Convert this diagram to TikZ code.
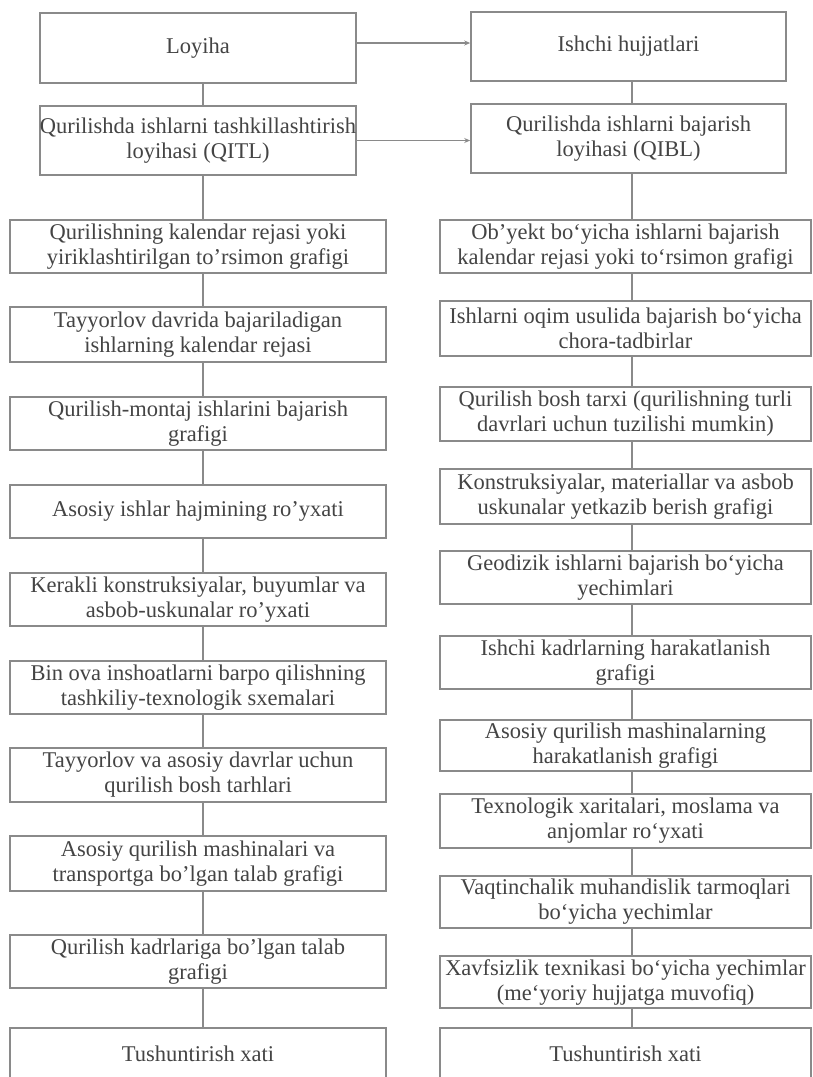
\documentclass[tikz,border=0pt]{standalone}
\usepackage{fontspec}
\setmainfont{Liberation Serif}
\usetikzlibrary{arrows.meta}
\definecolor{linegray}{HTML}{8A8A8A}
\definecolor{textgray}{HTML}{444444}
\begin{document}
\begin{tikzpicture}[x=1pt,y=-1pt,
  box/.style={draw=linegray, line width=1.6pt, rectangle, align=center, inner sep=0pt,
    text=textgray, font=\fontsize{22.5}{25}\selectfont},
  lbox/.style={box, minimum width=376pt},
  rbox/.style={box, minimum width=371pt},
  tbox/.style={box, minimum width=316pt, minimum height=69pt},
  conn/.style={draw=linegray, line width=1.6pt},
  arr/.style={conn, -{Stealth[length=6pt,width=5pt]}}]
\clip (0,0) rectangle (812,1077);
\fill[white] (0,0) rectangle (812,1077);
% top boxes
\node[tbox, minimum height=70pt] (loy) at (198,48) {Loyiha};
\node[tbox] (qitl) at (198,140.5) {Qurilishda ishlarni tashkillashtirish\\loyihasi (QITL)};
\node[tbox, minimum width=315pt] (ish) at (628.5,46.5) {Ishchi hujjatlari};
\node[tbox, minimum width=315pt] (qibl) at (628.5,138.5) {Qurilishda ishlarni bajarish\\loyihasi (QIBL)};
% left column
\node[lbox, minimum height=53pt] (l1) at (198,246.5) {Qurilishning kalendar rejasi yoki\\yiriklashtirilgan to'rsimon grafigi};
\node[lbox, minimum height=55pt] (l2) at (198,334.5) {Tayyorlov davrida bajariladigan\\ishlarning kalendar rejasi};
\node[lbox, minimum height=53pt] (l3) at (198,423.5) {Qurilish-montaj ishlarini bajarish\\grafigi};
\node[lbox, minimum height=53pt] (l4) at (198,511.5) {Asosiy ishlar hajmining ro'yxati};
\node[lbox, minimum height=53pt] (l5) at (198,599.5) {Kerakli konstruksiyalar, buyumlar va\\asbob-uskunalar ro'yxati};
\node[lbox, minimum height=53pt] (l6) at (198,687.5) {Bin ova inshoatlarni barpo qilishning\\tashkiliy-texnologik sxemalari};
\node[lbox, minimum height=54pt] (l7) at (198,775) {Tayyorlov va asosiy davrlar uchun\\qurilish bosh tarhlari};
\node[lbox, minimum height=55pt] (l8) at (198,863.5) {Asosiy qurilish mashinalari va\\transportga bo'lgan talab grafigi};
\node[lbox, minimum height=53pt] (l9) at (198,961.5) {Qurilish kadrlariga bo'lgan talab\\grafigi};
\node[lbox, minimum height=52pt] (l10) at (198,1054) {Tushuntirish xati};
% right column
\node[rbox, minimum height=53pt] (r1) at (625.5,246.5) {Ob'yekt bo`yicha ishlarni bajarish\\kalendar rejasi yoki to`rsimon grafigi};
\node[rbox, minimum height=55pt] (r2) at (625.5,328.5) {Ishlarni oqim usulida bajarish bo`yicha\\chora-tadbirlar};
\node[rbox, minimum height=54pt] (r3) at (625.5,414) {Qurilish bosh tarxi (qurilishning turli\\davrlari uchun tuzilishi mumkin)};
\node[rbox, minimum height=55pt] (r4) at (625.5,496.5) {Konstruksiyalar, materiallar va asbob\\uskunalar yetkazib berish grafigi};
\node[rbox, minimum height=53pt] (r5) at (625.5,577.5) {Geodizik ishlarni bajarish bo`yicha\\yechimlari};
\node[rbox, minimum height=53pt] (r6) at (625.5,662.5) {Ishchi kadrlarning harakatlanish\\grafigi};
\node[rbox, minimum height=51pt] (r7) at (625.5,745.5) {Asosiy qurilish mashinalarning\\harakatlanish grafigi};
\node[rbox, minimum height=54pt] (r8) at (625.5,821) {Texnologik xaritalari, moslama va\\anjomlar ro`yxati};
\node[rbox, minimum height=52pt] (r9) at (625.5,902) {Vaqtinchalik muhandislik tarmoqlari\\bo`yicha yechimlar};
\node[rbox, minimum height=52pt] (r10) at (625.5,982) {Xavfsizlik texnikasi bo`yicha yechimlar\\(me`yoriy hujjatga muvofiq)};
\node[rbox, minimum height=52pt] (r11) at (625.5,1054) {Tushuntirish xati};
% guide coordinates
\coordinate (lx) at (203,0);
\coordinate (rx) at (632,0);
\coordinate (a1) at (0,43);
% horizontal arrows
\draw[arr] (loy.east |- a1) -- (ish.west |- a1);
\draw[arr] (qitl.east) -- (qitl.east -| qibl.west);
% vertical connectors left
\draw[conn] (loy.south -| lx) -- (qitl.north -| lx);
\draw[conn] (qitl.south -| lx) -- (l1.north -| lx);
\foreach \a/\b in {l1/l2,l2/l3,l3/l4,l4/l5,l5/l6,l6/l7,l7/l8,l8/l9,l9/l10}
  \draw[conn] (\a.south -| lx) -- (\b.north -| lx);
% vertical connectors right
\draw[conn] (ish.south -| rx) -- (qibl.north -| rx);
\draw[conn] (qibl.south -| rx) -- (r1.north -| rx);
\foreach \a/\b in {r1/r2,r2/r3,r3/r4,r4/r5,r5/r6,r6/r7,r7/r8,r8/r9,r9/r10,r10/r11}
  \draw[conn] (\a.south -| rx) -- (\b.north -| rx);
\end{tikzpicture}
\end{document}
